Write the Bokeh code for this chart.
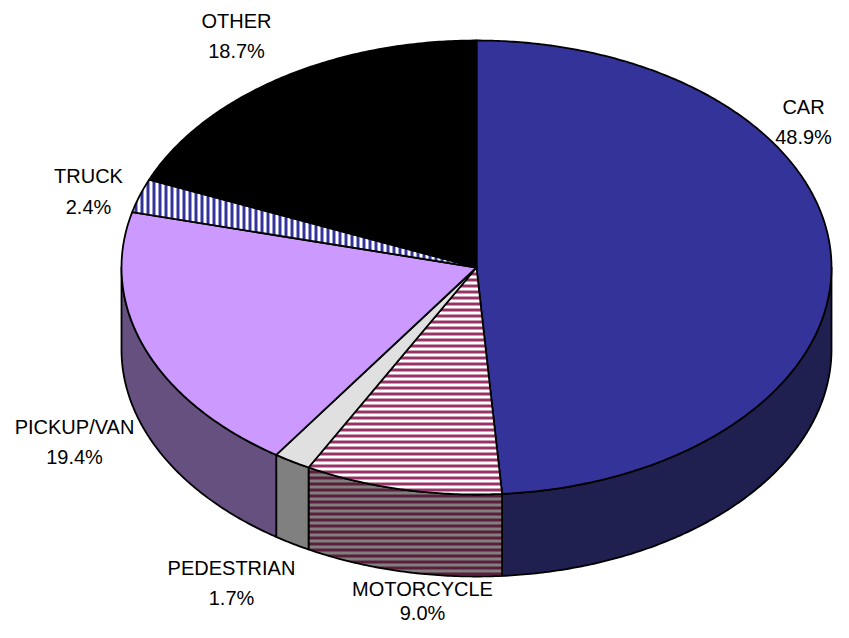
import numpy as np
from bokeh.plotting import figure
from bokeh.models import Range1d
from bokeh.core.properties import value
from bokeh.embed import file_html
from bokeh.resources import INLINE

# ---- data ----
categories = ["CAR", "MOTORCYCLE", "PEDESTRIAN", "PICKUP/VAN", "TRUCK", "OTHER"]
percents = [48.9, 9.0, 1.7, 19.4, 2.4, 18.7]
labels_pct = ["48.9%", "9.0%", "1.7%", "19.4%", "2.4%", "18.7%"]

# ---- styles ----
top_fill = ["#333399", "white", "#e0e0e0", "#cc99ff", "white", "black"]
top_hatch = [None, "horizontal_line", None, None, "vertical_line", None]
top_hatch_color = ["black", "#993366", "black", "black", "#333399", "black"]
side_fill = ["#1f1f50", "#808080", "#808080", "#665080", "#1a1a4d", "#000000"]
side_hatch = [None, "horizontal_line", None, None, "vertical_line", None]
side_hatch_color = ["black", "#5a1e3c", "black", "black", "#1a1a4d", "black"]

# label centres (screen px): (x, y of first line, y of second line)
label_xy = {
    "CAR": (803, 106, 136),
    "MOTORCYCLE": (422, 588, 612),
    "PEDESTRIAN": (231, 567, 597),
    "PICKUP/VAN": (74, 426, 456),
    "TRUCK": (88, 175, 206),
    "OTHER": (236, 20, 50),
}

# geometry (screen px, y down)
cx, cy, rx, ry, depth = 476, 267, 355, 227, 82

W, H = 833, 622
p = figure(width=W, height=H, output_backend="svg", toolbar_location=None,
           x_range=Range1d(0, W), y_range=Range1d(H, 0),
           min_border=0, x_axis_location=None, y_axis_location=None)
p.grid.visible = False
p.outline_line_color = None
p.background_fill_color = "white"
p.border_fill_color = "white"


def arc(a0, a1, dy=0.0, n=None):
    if n is None:
        n = max(int(abs(a1 - a0) * 2), 4)
    t = np.radians(np.linspace(a0, a1, n))
    return cx + rx * np.sin(t), cy - ry * np.cos(t) + dy


total = float(sum(percents))
cum = np.concatenate([[0.0], np.cumsum(percents)]) / total * 360.0

# side walls (visible front half: 90..270 deg clockwise from top)
for i in range(len(percents)):
    s, e = max(cum[i], 90.0), min(cum[i + 1], 270.0)
    if e <= s:
        continue
    tx, ty = arc(s, e)
    bx, by = arc(e, s, depth)
    kw = dict(fill_color=side_fill[i], line_color="black", line_width=1.8,
              line_join="round")
    if side_hatch[i]:
        kw.update(hatch_pattern=side_hatch[i], hatch_color=side_hatch_color[i],
                  hatch_scale=6, hatch_weight=3)
    p.patch(np.concatenate([tx, bx]), np.concatenate([ty, by]), **kw)

# top wedges
for i in range(len(percents)):
    ax, ay = arc(cum[i], cum[i + 1])
    xs = np.concatenate([[cx], ax, [cx]])
    ys = np.concatenate([[cy], ay, [cy]])
    kw = dict(fill_color=top_fill[i], line_color="black", line_width=1.8,
              line_join="round")
    if top_hatch[i]:
        kw.update(hatch_pattern=top_hatch[i], hatch_color=top_hatch_color[i],
                  hatch_scale=6, hatch_weight=3)
    p.patch(xs, ys, **kw)

# labels
tx_, ty_, tt_ = [], [], []
for c, pc in zip(categories, labels_pct):
    x, y1, y2 = label_xy[c]
    tx_ += [x, x]
    ty_ += [y1, y2]
    tt_ += [c, pc]
p.text(x=tx_, y=ty_, text=tt_, text_font=value("Liberation Sans"),
       text_font_size="20px", text_align="center", text_baseline="middle",
       text_color="black")

open("out.html", "w").write(file_html(p, INLINE))
